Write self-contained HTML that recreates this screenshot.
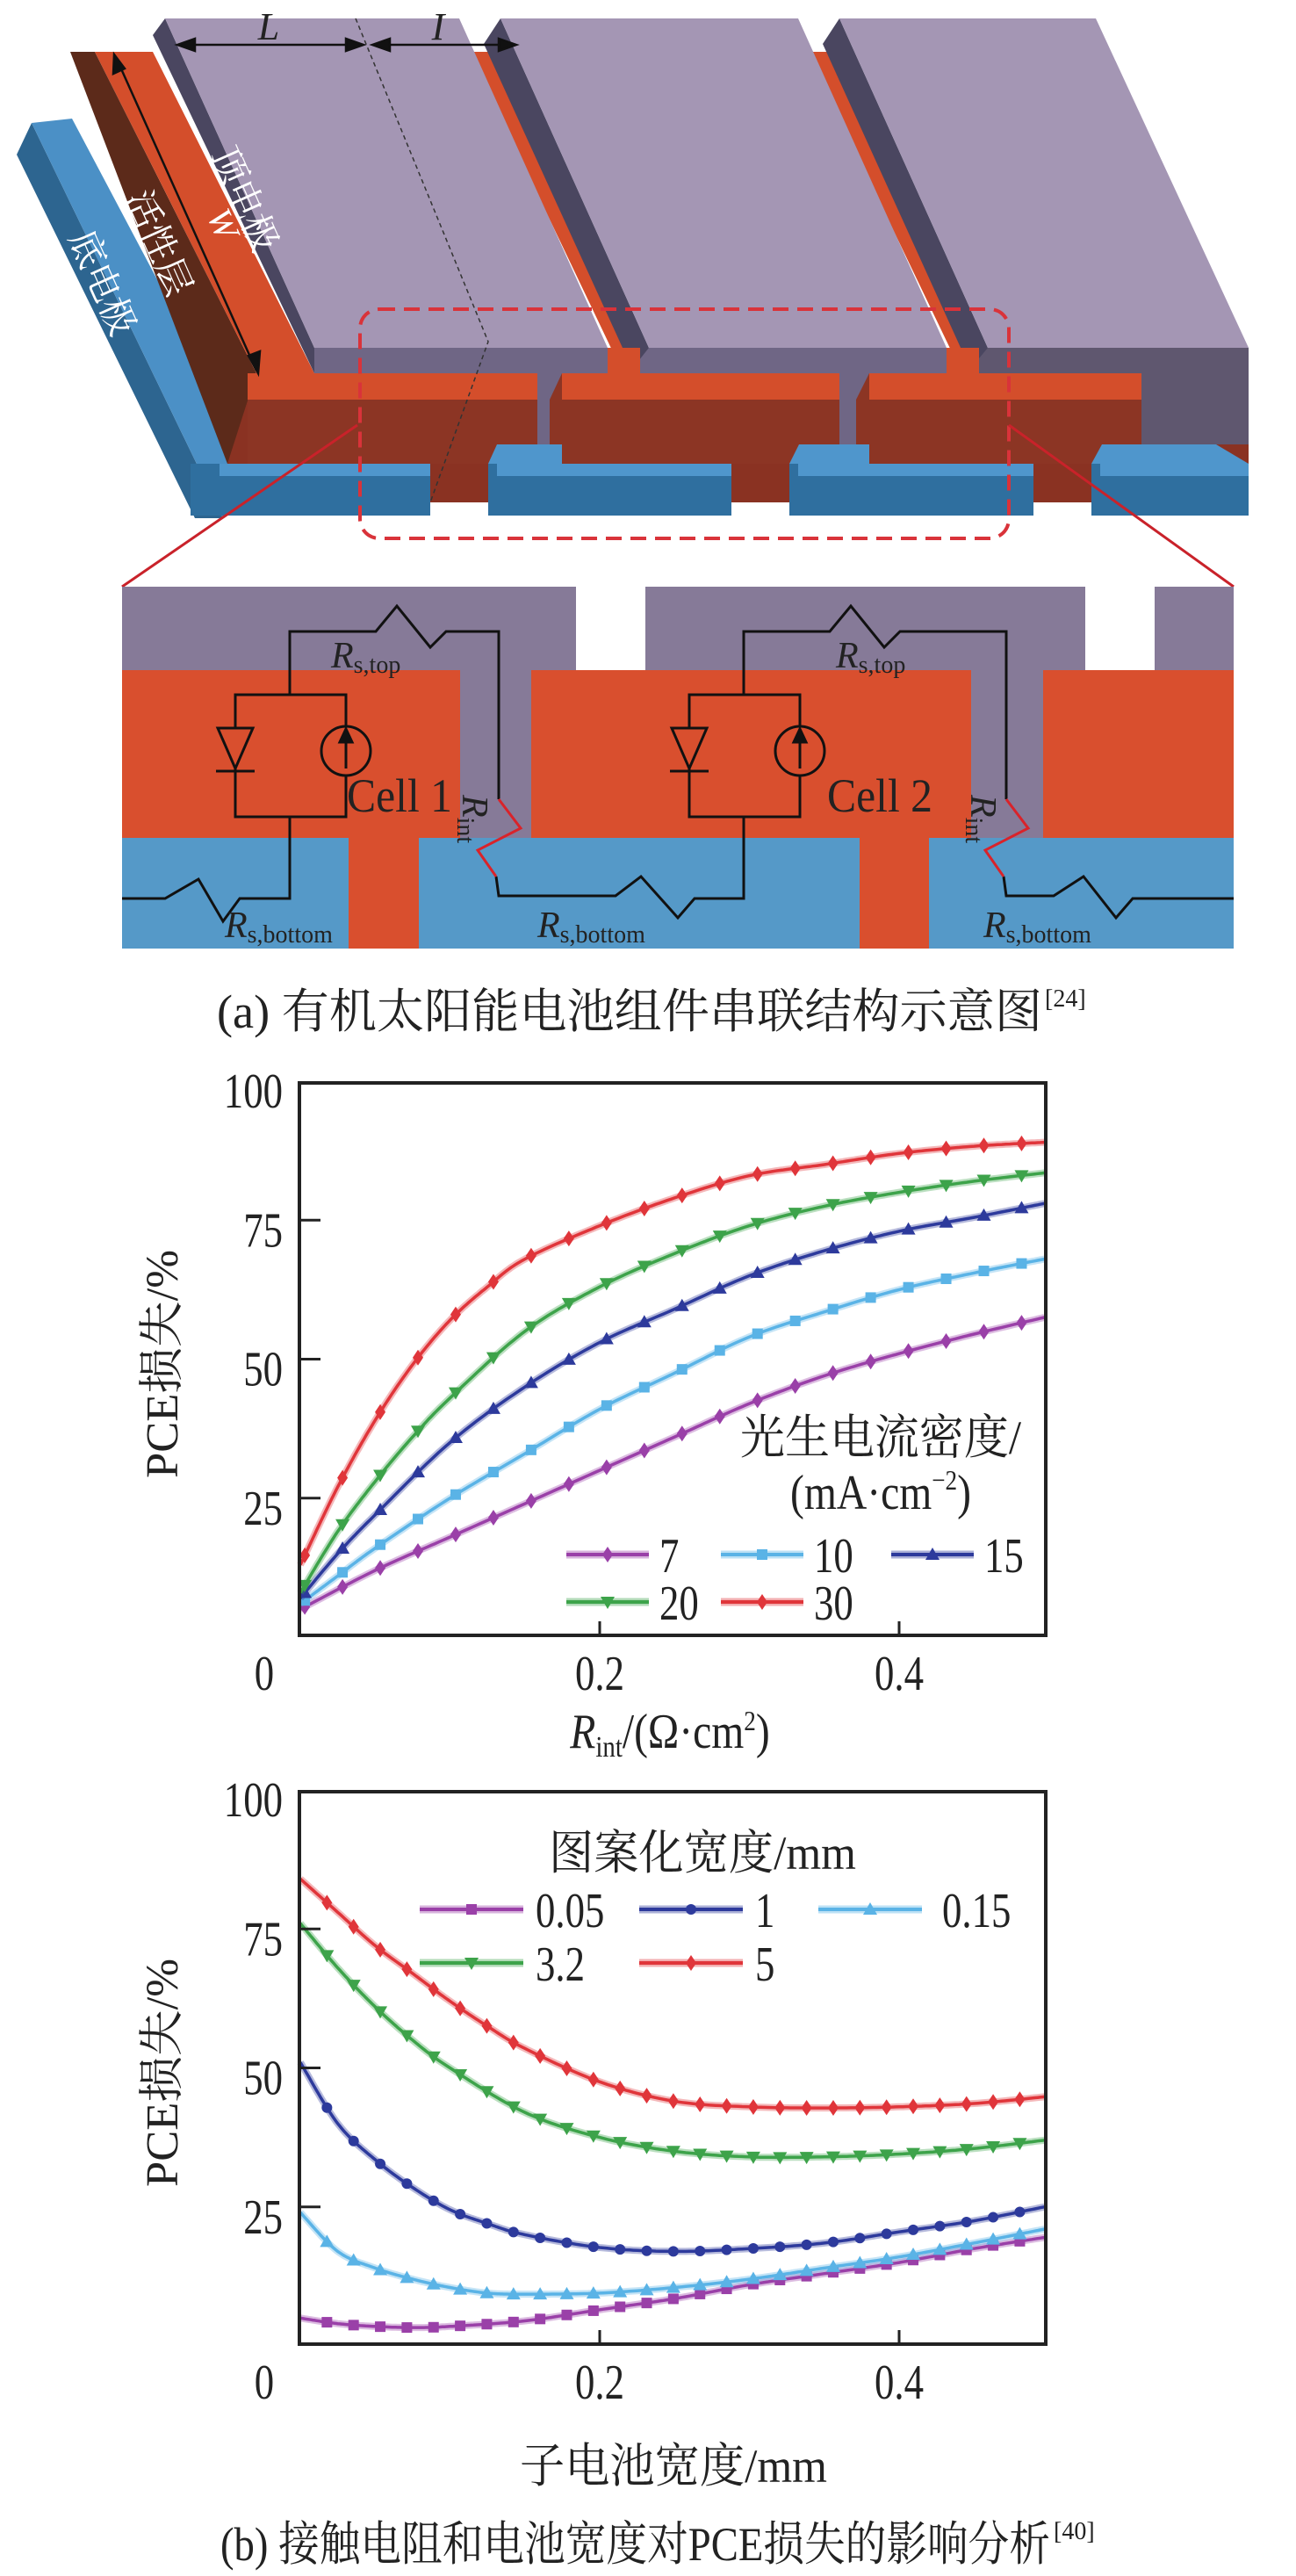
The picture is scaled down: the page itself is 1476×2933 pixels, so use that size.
<!DOCTYPE html>
<html><head><meta charset="utf-8"><style>
html,body{margin:0;padding:0;background:#fff}
svg{display:block}
text{font-family:"Liberation Serif","Noto Serif CJK SC",serif;fill:#222}
</style></head><body>
<svg id="s" width="1476" height="2933" viewBox="0 0 1476 2933" xmlns="http://www.w3.org/2000/svg">
<rect width="1476" height="2933" fill="#fff"/>
<polygon points="19,176 36,140 254,590 222,590" fill="#2d6590"/>
<polygon points="36,140 82,135 290,528 254,590" fill="#4b90c6"/>
<polygon points="259,455 1300,455 1422,506 1422,572 259,572" fill="#8a3222"/>
<polygon points="80,59 108,59 292,425 259,528" fill="#5c2a1a"/>
<polygon points="108,59 174,59 358,425 292,425" fill="#d44e2b"/>
<polygon points="535,59 560,59 740,430 712,430" fill="#d44e2b"/>
<polygon points="920,59 945,59 1125,430 1098,430" fill="#d44e2b"/>
<rect x="358" y="396" width="334" height="110" fill="#6f6685"/>
<rect x="716" y="396" width="362" height="110" fill="#6f6685"/>
<rect x="1105" y="396" width="317" height="110" fill="#5f576f"/>
<polygon points="174,40 188,21 358,396 358,425" fill="#4a4660"/>
<polygon points="188,21 523,21 692,396 358,396" fill="#a496b4"/>
<polygon points="551,50 570,21 739,396 720,420" fill="#4a4660"/>
<polygon points="570,21 909,21 1078,396 739,396" fill="#a496b4"/>
<polygon points="937,50 956,21 1125,396 1105,420" fill="#4a4660"/>
<polygon points="956,21 1248,21 1422,396 1125,396" fill="#a496b4"/>
<rect x="692" y="396" width="37" height="30" fill="#d44e2b"/>
<rect x="1078" y="396" width="37" height="30" fill="#d44e2b"/>
<rect x="282" y="425" width="330" height="30" fill="#d44e2b"/>
<rect x="282" y="455" width="330" height="73" fill="#8c3524"/>
<polygon points="640,425 956,425 956,528 626,528 626,455" fill="#8c3524"/>
<rect x="640" y="425" width="316" height="30" fill="#d44e2b"/>
<polygon points="990,425 1300,425 1300,528 975,528 975,455" fill="#8c3524"/>
<rect x="990" y="425" width="310" height="30" fill="#d44e2b"/>
<polygon points="566,506 640,506 640,528 556,528" fill="#4f96cc"/>
<polygon points="910,506 990,506 990,528 899,528" fill="#4f96cc"/>
<polygon points="1255,506 1385,506 1422,528 1243,528" fill="#4f96cc"/>
<rect x="217" y="528" width="273" height="59" fill="#2f6f9f"/><rect x="250" y="528" width="240" height="14" fill="#4f96cc"/>
<rect x="556" y="528" width="277" height="59" fill="#2f6f9f"/><rect x="566" y="528" width="267" height="14" fill="#4f96cc"/>
<rect x="899" y="528" width="278" height="59" fill="#2f6f9f"/><rect x="909" y="528" width="268" height="14" fill="#4f96cc"/>
<rect x="1243" y="528" width="179" height="59" fill="#2f6f9f"/><rect x="1253" y="528" width="169" height="14" fill="#4f96cc"/>
<polyline points="405,21 556,389 490,572" fill="none" stroke="#333" stroke-width="1.5" stroke-dasharray="5,4"/>
<g stroke="#111" stroke-width="2.5" fill="#111">
<line x1="204" y1="51" x2="412" y2="51"/><line x1="426" y1="51" x2="586" y2="51"/>
<polygon points="202,51 222,44 222,58"/><polygon points="414,51 394,44 394,58"/>
<polygon points="424,51 444,44 444,58"/><polygon points="588,51 568,44 568,58"/>
<line x1="132" y1="65" x2="292" y2="422"/>
<polygon points="130,62 129,84 142,78"/><polygon points="294,425 283,405 296,400"/>
</g>
<text x="306" y="45" font-size="44" font-style="italic" text-anchor="middle">L</text>
<text x="499" y="45" font-size="44" font-style="italic" text-anchor="middle">I</text>
<text transform="translate(235,245) rotate(66)" font-size="40" font-style="italic" style="fill:#fff">W</text>
<text transform="translate(240,175) rotate(66)" font-size="42" style="fill:#fff">顶电极</text>
<text transform="translate(142,225) rotate(66)" font-size="42" style="fill:#fff">活性层</text>
<text transform="translate(78,270) rotate(66)" font-size="42" style="fill:#fff">底电极</text>
<rect x="410" y="352" width="739" height="261" rx="22" fill="none" stroke="#d9333a" stroke-width="4" stroke-dasharray="18,10"/>
<line x1="407" y1="484" x2="139" y2="668" stroke="#c9222a" stroke-width="3"/>
<line x1="1149" y1="484" x2="1405" y2="668" stroke="#c9222a" stroke-width="3"/>
<rect x="139" y="668" width="517" height="95" fill="#867a98"/>
<rect x="735" y="668" width="501" height="95" fill="#867a98"/>
<rect x="1315" y="668" width="90" height="95" fill="#867a98"/>
<rect x="524" y="763" width="81" height="191" fill="#867a98"/>
<rect x="1106" y="763" width="82" height="191" fill="#867a98"/>
<rect x="139" y="763" width="385" height="191" fill="#d94f2e"/>
<rect x="605" y="763" width="501" height="191" fill="#d94f2e"/>
<rect x="1188" y="763" width="217" height="191" fill="#d94f2e"/>
<rect x="139" y="954" width="1266" height="126" fill="#5599c8"/>
<rect x="397" y="954" width="80" height="126" fill="#d94f2e"/>
<rect x="979" y="954" width="79" height="126" fill="#d94f2e"/>
<g fill="none" stroke="#111" stroke-width="3">
<polyline points="330,791 330,719 428,719 452,690 490,737 508,719 568,719 568,910"/>
<polyline points="565,998 568,1020 701,1020 730,998 772,1045 791,1023 847,1023 847,930"/>
<polyline points="847,791 847,719 945,719 969,690 1007,737 1025,719 1146,719 1146,910"/>
<polyline points="1143,998 1146,1020 1200,1020 1234,998 1271,1045 1290,1023 1405,1023"/>
<polyline points="330,930 330,1023 273,1023 254,1049 226,1001 188,1023 139,1023"/>
<rect x="268" y="791" width="126" height="139"/>
<rect x="785" y="791" width="126" height="139"/>
</g>
<g fill="none" stroke="#d9232a" stroke-width="3">
<polyline points="568,910 593,943 544,968 565,998"/>
<polyline points="1146,910 1171,943 1122,968 1143,998"/>
</g>
<g stroke="#111" stroke-width="3" fill="#d94f2e">
<polygon points="248,829 288,829 268,875"/><line x1="246" y1="878" x2="290" y2="878"/>
<circle cx="394" cy="855" r="28"/><line x1="394" y1="875" x2="394" y2="838"/>
<polygon points="394,830 387,845 401,845" fill="#111"/>
<polygon points="765,829 805,829 785,875"/><line x1="763" y1="878" x2="807" y2="878"/>
<circle cx="911" cy="855" r="28"/><line x1="911" y1="875" x2="911" y2="838"/>
<polygon points="911,830 904,845 918,845" fill="#111"/>
</g>
<g font-size="42">
<text x="377" y="760"><tspan font-style="italic">R</tspan><tspan font-size="28" dy="6">s,top</tspan></text>
<text x="952" y="760"><tspan font-style="italic">R</tspan><tspan font-size="28" dy="6">s,top</tspan></text>
<text x="256" y="1067"><tspan font-style="italic">R</tspan><tspan font-size="28" dy="6">s,bottom</tspan></text>
<text x="612" y="1067"><tspan font-style="italic">R</tspan><tspan font-size="28" dy="6">s,bottom</tspan></text>
<text x="1120" y="1067"><tspan font-style="italic">R</tspan><tspan font-size="28" dy="6">s,bottom</tspan></text>
<text transform="translate(527,905) rotate(90)"><tspan font-style="italic">R</tspan><tspan font-size="28" dy="6">int</tspan></text>
<text transform="translate(1106,905) rotate(90)"><tspan font-style="italic">R</tspan><tspan font-size="28" dy="6">int</tspan></text>
<text x="395" y="924" font-size="54" textLength="120" lengthAdjust="spacingAndGlyphs">Cell 1</text>
<text x="942" y="924" font-size="54" textLength="120" lengthAdjust="spacingAndGlyphs">Cell 2</text>
</g>
<text x="247" y="1170" font-size="54" textLength="940" lengthAdjust="spacingAndGlyphs">(a) 有机太阳能电池组件串联结构示意图</text>
<text x="1190" y="1146" font-size="28">[24]</text>
<g id="p1"></g><g id="p2"></g>
<text x="251" y="2915" font-size="54" textLength="945" lengthAdjust="spacingAndGlyphs">(b) 接触电阻和电池宽度对PCE损失的影响分析</text>
<text x="1200" y="2891" font-size="28">[40]</text>
</svg>
<script>
const NS="http://www.w3.org/2000/svg";
function el(p,t,a,txt){const e=document.createElementNS(NS,t);for(const k in a)e.setAttribute(k,a[k]);if(txt!==undefined)e.textContent=txt;p.appendChild(e);return e;}
function interp(anc){const out=[];const n=anc.length;
 for(let i=0;i<n-1;i++){const p0=anc[Math.max(i-1,0)],p1=anc[i],p2=anc[i+1],p3=anc[Math.min(i+2,n-1)];
  for(let t=0;t<1;t+=0.05){const t2=t*t,t3=t2*t;
   const f=(a,b,c,d)=>0.5*((2*b)+(-a+c)*t+(2*a-5*b+4*c-d)*t2+(-a+3*b-3*c+d)*t3);
   out.push([f(p0[0],p1[0],p2[0],p3[0]),f(p0[1],p1[1],p2[1],p3[1])]);}}
 out.push(anc[n-1]);return out;}
function yAt(d,x){for(let i=0;i<d.length-1;i++){if(d[i][0]<=x&&d[i+1][0]>=x){const r=(x-d[i][0])/(d[i+1][0]-d[i][0]||1);return d[i][1]+r*(d[i+1][1]-d[i][1]);}}return d[d.length-1][1];}
function marker(g,type,x,y,c){const s=8;
 if(type=='c')el(g,'circle',{cx:x,cy:y,r:6,fill:c});
 else if(type=='s')el(g,'rect',{x:x-6,y:y-6,width:12,height:12,fill:c});
 else if(type=='u')el(g,'polygon',{points:`${x},${y-s} ${x-s},${y+6} ${x+s},${y+6}`,fill:c});
 else if(type=='d')el(g,'polygon',{points:`${x},${y+s} ${x-s},${y-6} ${x+s},${y-6}`,fill:c});
 else if(type=='r')el(g,'polygon',{points:`${x},${y-9} ${x-6},${y} ${x},${y+9} ${x+6},${y}`,fill:c});}
function ntext(g,x,y,anchor,str,fs){return el(g,'text',{x:0,y:0,'font-size':fs||56,'text-anchor':anchor,transform:`translate(${x},${y}) scale(0.8,1)`},str);}
function plot(gid,top,series,mx,leg,xl){
 const g=document.getElementById(gid);const L=341,R=1191,B=top+629,y0=top+631;
 const X=v=>342+1705*v,Y=v=>y0-6.33*v;
 const cl=el(g,'g',{});
 series.forEach(s=>{const d=interp(s.a);const pts=d.map(p=>X(p[0]).toFixed(1)+','+Y(p[1]).toFixed(1)).join(' ');
  el(cl,'polyline',{points:pts,fill:'none',stroke:s.c,'stroke-width':8,'stroke-opacity':0.35});
  el(cl,'polyline',{points:pts,fill:'none',stroke:s.c,'stroke-width':3.5});
  mx.forEach(x=>marker(cl,s.m,X(x),Y(yAt(d,x)),s.c));});
 el(g,'rect',{x:L,y:top,width:R-L,height:B-top,fill:'none',stroke:'#222','stroke-width':4});
 [25,50,75].forEach(v=>el(g,'line',{x1:L,y1:Y(v),x2:L+24,y2:Y(v),stroke:'#222','stroke-width':3}));
 [0.2,0.4].forEach(v=>el(g,'line',{x1:X(v),y1:B,x2:X(v),y2:B-16,stroke:'#222','stroke-width':3}));
 [100,75,50,25].forEach(v=>ntext(g,322,Y(v)+30,'end',String(v)));
 [['0',301],['0.2',683],['0.4',1024]].forEach(([t,x])=>ntext(g,x,B+62,'middle',t));
 el(g,'text',{transform:`translate(202,${top+320}) rotate(-90)`,'font-size':52,'text-anchor':'middle',textLength:260,lengthAdjust:'spacingAndGlyphs'},'PCE损失/%');
 xl(g,B);leg(g,top);
}
const C={r:'#e0353a',g:'#3da34a',n:'#2d3a9c',l:'#5ab3e6',p:'#9a40a8'};
const mx1=[];for(let i=0;i<20;i++)mx1.push(0.003+0.0252*i);
plot('p1',1233,[
 {c:C.p,m:'r',a:[[0,5],[0.05,12],[0.1,18],[0.15,24],[0.2,30],[0.25,36],[0.3,42],[0.35,47],[0.4,51],[0.45,54.5],[0.497,57.5]]},
 {c:C.l,m:'s',a:[[0,6],[0.025,11],[0.05,16],[0.1,25],[0.15,33],[0.2,41],[0.25,47.5],[0.3,54],[0.35,58.5],[0.4,62.5],[0.45,65.5],[0.497,68]]},
 {c:C.n,m:'u',a:[[0,7],[0.025,15],[0.05,22],[0.1,35],[0.15,45],[0.2,53],[0.25,59],[0.3,65],[0.35,69.5],[0.4,73],[0.45,75.5],[0.497,78]]},
 {c:C.g,m:'d',a:[[0,8],[0.025,19],[0.05,28],[0.075,36],[0.1,43],[0.15,55],[0.2,63],[0.25,69],[0.3,74],[0.35,77.5],[0.4,80],[0.45,82],[0.497,83.5]]},
 {c:C.r,m:'r',a:[[0,13],[0.025,27],[0.05,39],[0.075,49],[0.1,57],[0.125,63],[0.15,68],[0.2,74],[0.25,79],[0.3,83],[0.35,85],[0.4,87],[0.45,88.3],[0.497,89]]}
],mx1,(g,top)=>{
 el(g,'text',{x:843,y:1655,'font-size':54,textLength:320,lengthAdjust:'spacingAndGlyphs'},'光生电流密度/');
 const t=el(g,'text',{x:0,y:0,'font-size':56,'text-anchor':'middle',transform:'translate(1003,1718) scale(0.85,1)'});t.innerHTML='(mA·cm<tspan font-size="32" dy="-22">−2</tspan><tspan dy="22">)</tspan>';
 const items=[[C.p,'r','7',645,1770],[C.l,'s','10',821,1770],[C.n,'u','15',1015,1770],[C.g,'d','20',645,1824],[C.r,'r','30',821,1824]];
 items.forEach(([c,m,l,x,y])=>{el(g,'line',{x1:x,y1:y,x2:x+94,y2:y,stroke:c,'stroke-width':9,'stroke-opacity':0.4});el(g,'line',{x1:x,y1:y,x2:x+94,y2:y,stroke:c,'stroke-width':4});marker(g,m,x+47,y,c);ntext(g,x+106,y+20,'start',l);});
},(g,B)=>{const t=el(g,'text',{x:0,y:0,'font-size':56,'text-anchor':'middle',transform:'translate(763,1990) scale(0.85,1)'});t.innerHTML='<tspan font-style="italic">R</tspan><tspan font-size="34" dy="10">int</tspan><tspan dy="-10">/(Ω·cm</tspan><tspan font-size="32" dy="-20">2</tspan><tspan dy="20">)</tspan>';});
const mx2=[];for(let i=1;i<28;i++)mx2.push(0.0178*i);
plot('p2',2040,[
 {c:C.p,m:'s',a:[[0,5],[0.025,4],[0.05,3.5],[0.075,3.3],[0.1,3.5],[0.15,4.5],[0.2,6.5],[0.25,8.5],[0.3,11],[0.35,13],[0.4,15],[0.45,17.5],[0.497,19.5]]},
 {c:C.l,m:'u',a:[[0,24],[0.025,17],[0.05,14],[0.075,12],[0.1,10.5],[0.125,9.5],[0.15,9.3],[0.2,9.5],[0.25,10.5],[0.3,12],[0.35,14],[0.4,16],[0.45,18.5],[0.497,21]]},
 {c:C.n,m:'c',a:[[0,51],[0.025,40],[0.05,33.5],[0.075,28.5],[0.1,24.5],[0.125,22],[0.15,20],[0.2,17.7],[0.25,17],[0.3,17.5],[0.35,18.5],[0.4,20.5],[0.45,22.5],[0.497,25]]},
 {c:C.g,m:'d',a:[[0,76],[0.025,68],[0.05,61],[0.075,55],[0.1,50],[0.15,42],[0.2,37.5],[0.25,35],[0.3,34],[0.35,34],[0.4,34.5],[0.45,35.5],[0.497,37]]},
 {c:C.r,m:'r',a:[[0,84],[0.025,78],[0.05,72],[0.075,67],[0.1,62],[0.125,57.5],[0.15,53.5],[0.2,47.5],[0.25,44],[0.3,43],[0.35,42.8],[0.4,43],[0.45,43.6],[0.497,44.8]]}
],mx2,(g,top)=>{
 el(g,'text',{x:800,y:2128,'font-size':54,'text-anchor':'middle',textLength:350,lengthAdjust:'spacingAndGlyphs'},'图案化宽度/mm');
 const items=[[C.p,'s','0.05',478,2174],[C.n,'c','1',728,2174],[C.l,'u','0.15',932,2174],[C.g,'d','3.2',478,2235],[C.r,'r','5',728,2235]];
 items.forEach(([c,m,l,x,y])=>{el(g,'line',{x1:x,y1:y,x2:x+118,y2:y,stroke:c,'stroke-width':9,'stroke-opacity':0.4});el(g,'line',{x1:x,y1:y,x2:x+118,y2:y,stroke:c,'stroke-width':4});marker(g,m,x+59,y,c);ntext(g,x+(l=='0.15'?141:132),y+20,'start',l);});
},(g,B)=>{el(g,'text',{x:767,y:2826,'font-size':54,'text-anchor':'middle',textLength:350,lengthAdjust:'spacingAndGlyphs'},'子电池宽度/mm');});
</script>
</body></html>
